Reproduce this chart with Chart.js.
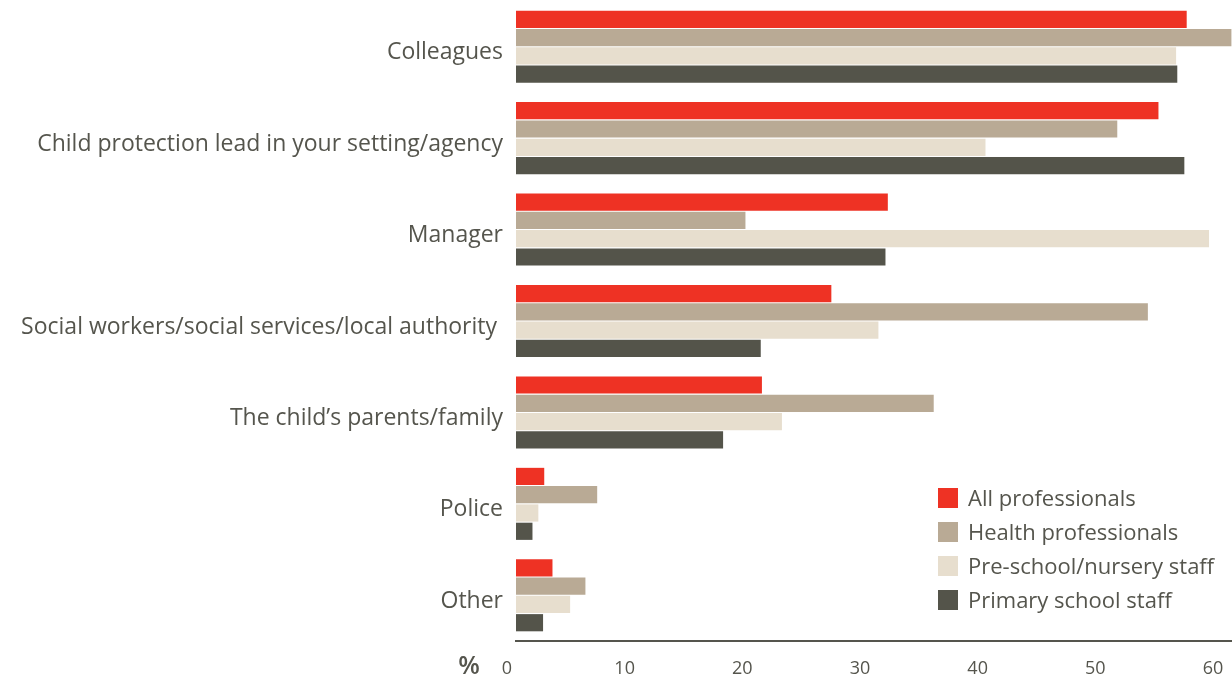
<!DOCTYPE html>
<html>
<head>
<meta charset="utf-8">
<script src="https://cdn.jsdelivr.net/npm/chart.js@4"></script>
<style>
  html, body { margin: 0; padding: 0; background: #ffffff; overflow: hidden; }
  #wrap { position: relative; width: 1232px; height: 682px; }
</style>
</head>
<body>
<div id="wrap"><canvas id="c" width="1232" height="682"></canvas></div>
<script>
const categories = [
  "Colleagues",
  "Child protection lead in your setting/agency",
  "Manager",
  "Social workers/social services/local authority ",
  "The child\u2019s parents/family",
  "Police",
  "Other"
];
const seriesNames = ["All professionals", "Health professionals", "Pre-school/nursery staff", "Primary school staff"];
const allProfessionals = [57.0, 54.6, 31.6, 26.8, 20.9, 2.4, 3.1];
const healthProfessionals = [60.8, 51.1, 19.5, 53.7, 35.5, 6.9, 5.9];
const preschoolStaff = [56.1, 39.9, 58.9, 30.8, 22.6, 1.9, 4.6];
const primaryStaff = [56.2, 56.8, 31.4, 20.8, 17.6, 1.4, 2.3];
const xTicks = [0, 10, 20, 30, 40, 50, 60];

const colors = ["#ee3224", "#b9aa95", "#e7dece", "#54544a"];
const textColor = "#55554d";
const fontFamily = "'Open Sans', 'Noto Sans', sans-serif";

const legendPlugin = {
  id: 'customLegend',
  afterDraw(chart) {
    const ctx = chart.ctx;
    ctx.save();
    ctx.font = "22px " + fontFamily;
    ctx.textBaseline = "middle";
    ctx.textAlign = "left";
    chart.data.datasets.forEach((ds, i) => {
      const y = 498 + i * 34;
      ctx.fillStyle = ds.backgroundColor;
      ctx.fillRect(938, y - 10, 20, 20);
      ctx.fillStyle = textColor;
      ctx.fillText(ds.label, 968, y + 2);
    });
    // percent sign
    ctx.font = "600 25px " + fontFamily;
    ctx.textAlign = "center";
    ctx.fillStyle = textColor;
    ctx.fillText("%", 469, 667);
    ctx.restore();
  }
};

new Chart(document.getElementById('c'), {
  type: 'bar',
  data: {
    labels: categories,
    datasets: [
      { label: seriesNames[0], data: allProfessionals, backgroundColor: colors[0] },
      { label: seriesNames[1], data: healthProfessionals, backgroundColor: colors[1] },
      { label: seriesNames[2], data: preschoolStaff, backgroundColor: colors[2] },
      { label: seriesNames[3], data: primaryStaff, backgroundColor: colors[3] }
    ]
  },
  options: {
    indexAxis: 'y',
    responsive: false,
    animation: false,
    devicePixelRatio: 1,
    layout: { padding: { top: 1, right: 0, bottom: 0, left: 0 } },
    datasets: { bar: { categoryPercentage: 0.8, barPercentage: 0.94, clip: false, borderWidth: 0 } },
    plugins: { legend: { display: false }, tooltip: { enabled: false } },
    scales: {
      x: {
        min: 0, max: 60.85,
        afterBuildTicks(scale) { scale.ticks = xTicks.map(v => ({ value: v })); },
        afterFit(scale) { scale.height = 41; scale.paddingLeft = 0; scale.paddingRight = 0; },
        grid: { display: false, drawTicks: false },
        border: { display: true, color: textColor, width: 2 },
        ticks: {
          color: textColor,
          font: { family: fontFamily, size: 18 },
          padding: 17,
          labelOffset: -9,
          maxRotation: 0
        }
      },
      y: {
        afterFit(scale) { scale.width = 516; scale.paddingTop = 0; scale.paddingBottom = 0; },
        grid: { display: false, drawTicks: false },
        border: { display: false },
        ticks: {
          color: textColor,
          font: { family: fontFamily, size: 23 },
          padding: 13,
          labelOffset: 6
        }
      }
    }
  },
  plugins: [legendPlugin]
});
</script>
</body>
</html>
